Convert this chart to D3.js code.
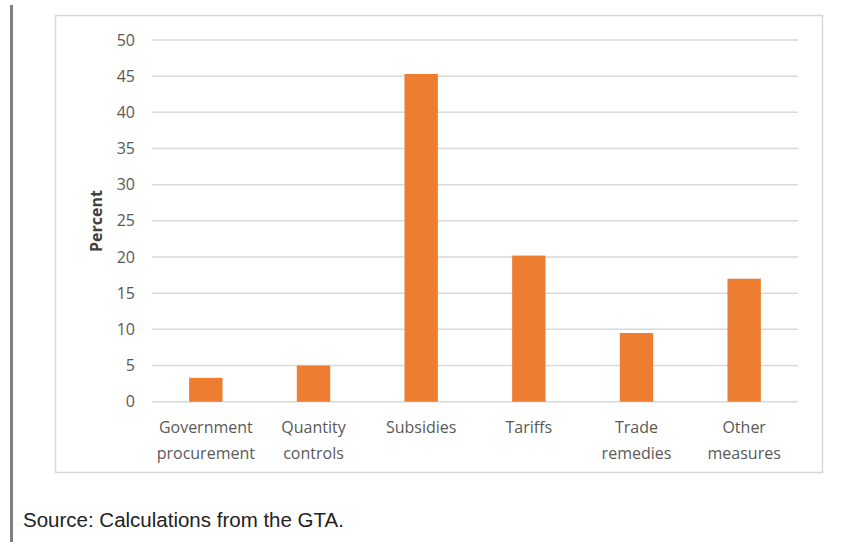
<!DOCTYPE html>
<html><head><meta charset="utf-8">
<script src="https://cdn.jsdelivr.net/npm/d3@7"></script>
<style>body{margin:0;background:#fff}svg{display:block}</style>
</head><body>
<script>
const categories = [["Government","procurement"],["Quantity","controls"],["Subsidies"],["Tariffs"],["Trade","remedies"],["Other","measures"]];
const values = [3.3, 5.0, 45.3, 20.2, 9.5, 17.0];
const yTicks = [0,5,10,15,20,25,30,35,40,45,50];
const yTitle = "Percent";
const source = "Source: Calculations from the GTA.";

const W = 852, H = 542;
const svg = d3.select("body").append("svg").attr("width", W).attr("height", H);

// left rule
svg.append("rect").attr("x", 10).attr("y", 5).attr("width", 3).attr("height", H - 5).attr("fill", "#7f7f7f");
// chart frame
svg.append("rect").attr("x", 55.5).attr("y", 15.5).attr("width", 767).attr("height", 457)
  .attr("fill", "#fff").attr("stroke", "#d9d9d9").attr("stroke-width", 1.5);

const x = d3.scaleBand().domain(categories.map((d,i)=>i)).range([152, 798]).paddingInner(0.69).paddingOuter(0.345);
const y = d3.scaleLinear().domain([0, 50]).range([401.7, 40]);

const font = "'Open Sans', Lato, sans-serif";
// gridlines
svg.append("g").selectAll("line").data(yTicks).join("line")
  .attr("x1", 152).attr("x2", 798).attr("y1", d => y(d)).attr("y2", d => y(d))
  .attr("stroke", "#d9d9d9").attr("stroke-width", 1.5);

const yAxis = d3.axisLeft(y).tickValues(yTicks).tickSize(0).tickPadding(0);
const gy = svg.append("g").attr("transform", "translate(135,0)").call(yAxis);
gy.select(".domain").remove();
gy.selectAll("text").attr("font-family", font).attr("font-size", 16).attr("fill", "#595959");

// bars
svg.append("g").selectAll("rect").data(values).join("rect")
  .attr("x", (d,i) => x(i)).attr("width", x.bandwidth())
  .attr("y", d => y(d)).attr("height", d => y(0) - y(d)).attr("fill", "#ED7D31");

// x labels
const xl = svg.append("g").selectAll("text").data(categories).join("text")
  .attr("x", (d,i) => x(i) + x.bandwidth()/2).attr("y", 433)
  .attr("text-anchor", "middle").attr("font-family", font).attr("font-size", 16).attr("fill", "#595959");
xl.each(function(d){
  const t = d3.select(this);
  d.forEach((line, j) => t.append("tspan").attr("x", t.attr("x")).attr("dy", j ? 26 : 0).text(line));
});

svg.append("text").attr("transform", "translate(102,221) rotate(-90)").attr("text-anchor", "middle")
  .attr("font-family", font).attr("font-size", 16).attr("font-weight", "bold").attr("fill", "#404040").text(yTitle);

svg.append("text").attr("x", 23).attr("y", 527).attr("font-family", "'Liberation Sans', Arial, sans-serif")
  .attr("font-size", 20.5).attr("fill", "#222").text(source);
</script>
</body></html>
